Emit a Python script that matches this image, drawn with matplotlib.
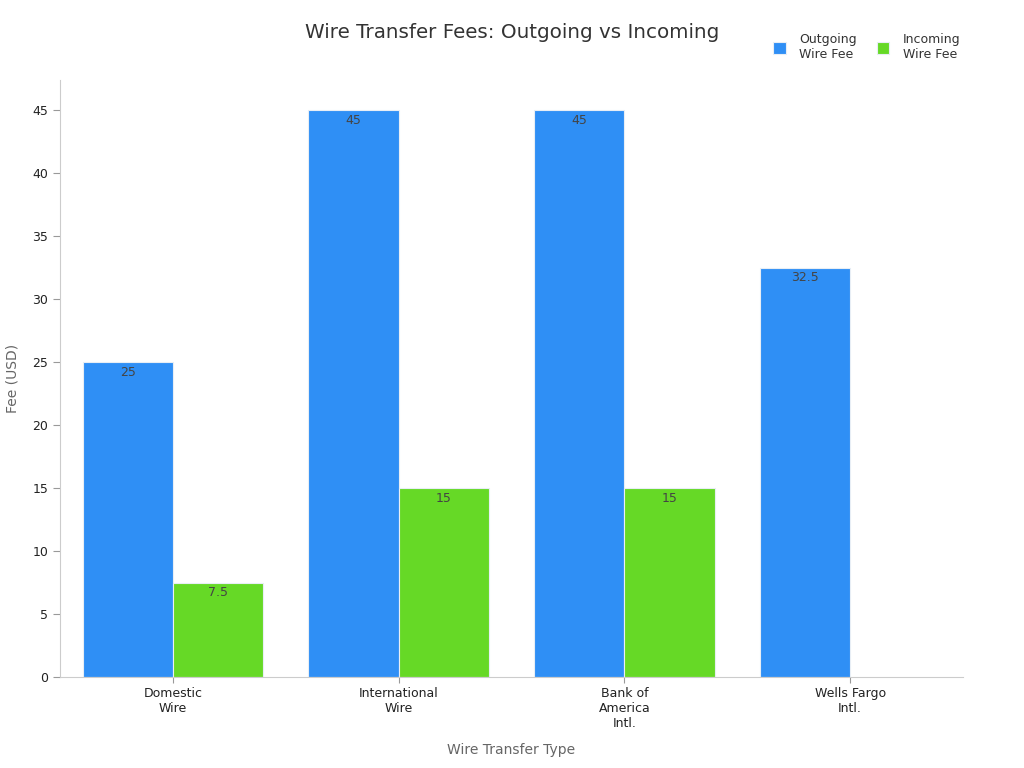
import matplotlib
matplotlib.use("Agg")
import matplotlib.pyplot as plt
import numpy as np

categories = ["Domestic\nWire", "International\nWire", "Bank of\nAmerica\nIntl.", "Wells Fargo\nIntl."]
outgoing = [25, 45, 45, 32.5]
incoming = [7.5, 15, 15, None]
series_names = ["Outgoing\nWire Fee", "Incoming\nWire Fee"]
colors = ["#2f8ff5", "#66d926"]

plt.rcParams['font.family'] = ['DejaVu Sans']
fig = plt.figure(figsize=(10.24, 7.68), dpi=100)
ax = fig.add_axes([60/1024, 1-677/768, (963-60)/1024, (677-80)/768])

x = np.arange(len(categories))
w = 0.4
for i, (vals, col, name) in enumerate(zip([outgoing, incoming], colors, series_names)):
    xs = [xi + (i - 0.5) * w for xi, v in zip(x, vals) if v is not None]
    vs = [v for v in vals if v is not None]
    ax.bar(xs, vs, width=w, color=col, edgecolor="#e8eef5", linewidth=0.8, label=name)
    for xb, v in zip(xs, vs):
        ax.annotate(f"{v:g}", (xb, v), xytext=(0, -2.5), textcoords="offset points",
                    ha="center", va="top", fontsize=9, color="#444444")

ax.set_xlim(-0.5, 3.5)
ax.set_ylim(0, 47.4)
ax.set_yticks(np.arange(0, 50, 5))
ax.set_xticks(x)
ax.set_xticklabels(categories, fontsize=9, color="#222222")
ax.tick_params(axis="y", labelsize=9, colors="#222222", length=5, color="#999999")
ax.tick_params(axis="x", length=4, color="#999999")
for s in ["top", "right"]:
    ax.spines[s].set_visible(False)
for s in ["left", "bottom"]:
    ax.spines[s].set_color("#cccccc")
ax.set_ylabel("Fee (USD)", fontsize=10, color="#666666", labelpad=9)
ax.set_xlabel("Wire Transfer Type", fontsize=10, color="#666666", labelpad=9)

fig.text(0.5, 1-33/768, "Wire Transfer Fees: Outgoing vs Incoming", ha="center", va="center",
         fontsize=14.3, color="#333333")

leg = fig.legend(loc="upper right", bbox_to_anchor=(972/1024, 1-22/768), ncol=2, frameon=False,
                 fontsize=9, handlelength=1.0, handleheight=1.0, columnspacing=1.6, handletextpad=1.1)
for t in leg.get_texts():
    t.set_color("#333333")

fig.savefig("out.png", dpi=100)
